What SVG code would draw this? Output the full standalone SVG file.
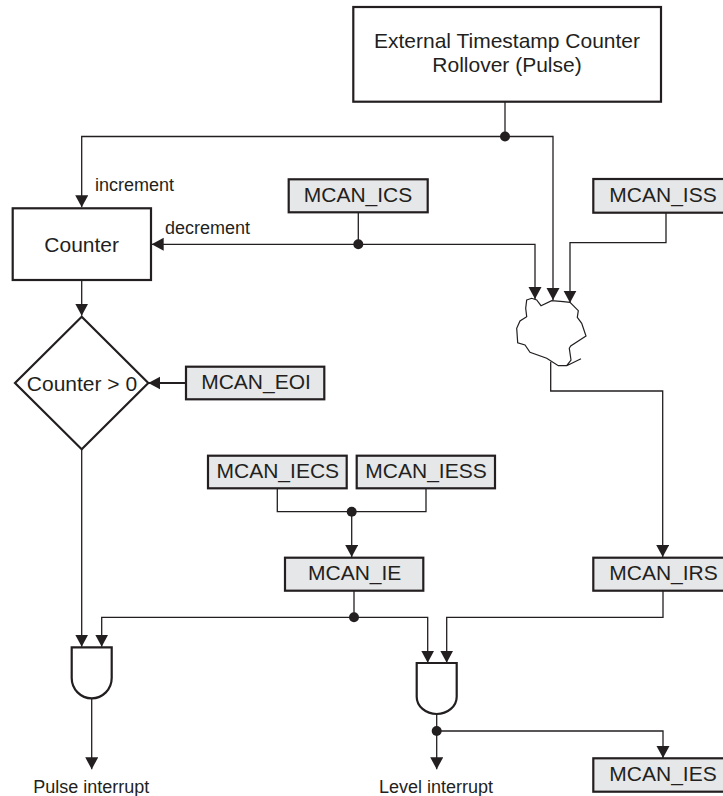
<svg xmlns="http://www.w3.org/2000/svg" width="723" height="796" viewBox="0 0 723 796">
<defs>
<marker id="a" markerUnits="userSpaceOnUse" markerWidth="14" markerHeight="14" refX="12" refY="6.5" orient="auto"><path d="M0 0L12 6.5L0 13Z" fill="#231f20"/></marker>
</defs>
<style>
text{font-family:"Liberation Sans",Arial,sans-serif;fill:#231f20;text-anchor:middle;font-size:21px}
text.s{font-size:18px}
.b{fill:#fff;stroke:#231f20;stroke-width:2.2}
.r{fill:#e6e7e8;stroke:#231f20;stroke-width:2.2}
.c{fill:none;stroke:#231f20;stroke-width:1.3}
.t{stroke-width:2.2}
.d{fill:#231f20}
</style>
<rect width="723" height="796" fill="#fff"/>
<g id="connectors">
<path class="c" d="M505 102V136.500"/>
<path class="c" marker-end="url(#a)" d="M505 136.500H81.700V207.300"/>
<path class="c" marker-end="url(#a)" d="M505 136.500H553V300"/>
<path class="c" d="M358.300 212V244.300"/>
<path class="c" marker-end="url(#a)" d="M358.300 244.300H151.700"/>
<path class="c" marker-end="url(#a)" d="M358.300 244.300H535V299"/>
<path class="c" marker-end="url(#a)" d="M666 212V242.700H570V302.700"/>
<path class="c" marker-end="url(#a)" d="M550.700 361.700V391H662.700V557"/>
<path class="c" marker-end="url(#a)" d="M81.700 280V315.700"/>
<path class="c t" marker-end="url(#a)" d="M186 383H148.300"/>
<path class="c" marker-end="url(#a)" d="M81.700 449V646.700"/>
<path class="c" d="M277.300 488V511.700H426V488"/>
<path class="c" marker-end="url(#a)" d="M351.700 511.700V557"/>
<path class="c" d="M354 590.700V617.300"/>
<path class="c" marker-end="url(#a)" d="M354 617.300H101.700V646.700"/>
<path class="c" marker-end="url(#a)" d="M354 617.300H427.700V662.700"/>
<path class="c" marker-end="url(#a)" d="M663 590.700V617.300H446.700V662.700"/>
<path class="c" marker-end="url(#a)" d="M91.700 698V769.300"/>
<path class="c" marker-end="url(#a)" d="M436.700 714V769.300"/>
<path class="c" marker-end="url(#a)" d="M436.700 731H663V758"/>
<circle class="d" cx="505" cy="136.500" r="5"/>
<circle class="d" cx="358.300" cy="244.300" r="5"/>
<circle class="d" cx="351.700" cy="511.700" r="5"/>
<circle class="d" cx="354" cy="617.300" r="5"/>
<circle class="d" cx="436.700" cy="731" r="5"/>
</g>
<g id="external"><rect class="b" x="353.300" y="7" width="307.700" height="94.700"/><text x="507" y="48">External Timestamp Counter</text><text x="507" y="72">Rollover (Pulse)</text></g>
<g id="counter"><rect class="b" x="12.700" y="208.300" width="138.300" height="71.700"/><text x="81.700" y="251.700">Counter</text></g>
<g id="decision"><path class="b" d="M81.700 316.700L148.300 383L81.700 449.300L15 383Z"/><text x="82" y="390.700">Counter &gt; 0</text></g>
<g id="ics"><rect class="r" x="288.700" y="179.300" width="139" height="33"/><text x="358" y="202">MCAN_ICS</text></g>
<g id="iss"><rect class="r" x="593.300" y="179" width="133" height="33.700"/><text x="663" y="201.700">MCAN_ISS</text></g>
<g id="eoi"><rect class="r" x="186" y="366.700" width="138.300" height="32.600"/><text x="256" y="389">MCAN_EOI</text></g>
<g id="iecs"><rect class="r" x="208" y="455.700" width="138.700" height="32.600"/><text x="277.800" y="477.700">MCAN_IECS</text></g>
<g id="iess"><rect class="r" x="356.700" y="455.700" width="138.300" height="32.600"/><text x="426" y="477.700">MCAN_IESS</text></g>
<g id="ie"><rect class="r" x="285" y="557.700" width="138.300" height="33"/><text x="354.700" y="580">MCAN_IE</text></g>
<g id="irs"><rect class="r" x="593.300" y="557.700" width="133" height="33"/><text x="663.500" y="580">MCAN_IRS</text></g>
<g id="ies"><rect class="r" x="593.300" y="758.300" width="133" height="33.400"/><text x="663" y="781">MCAN_IES</text></g>
<g id="blob"><path d="M526.700 300L531.700 298.300L536.700 300L541 305.700L551.700 300.700L563.300 301.700L570 302.300L578.300 310.700L577.300 317.300L581.700 323.300L586 336L570.700 346L569.300 348.300L571 360L566.700 365.700L558.300 365.700L546.700 358.300L530 352.300L525 345L517.700 342.700L516.700 328.300L520 321L526.700 316.700L525.700 308.300ZM566.700 365.700L581 358.700" fill="#fff" stroke="#231f20" stroke-width="1.2"/></g>
<g id="and1"><path class="b" d="M71.700 647.300H111.700V678A20 20.300 0 0 1 71.700 678Z"/></g>
<g id="and2"><path class="b" d="M416.700 663H456.700V696.700A20 17.300 0 0 1 416.700 696.700Z"/></g>
<g id="labels">
<text class="s" x="134.500" y="191">increment</text>
<text class="s" x="207.500" y="234">decrement</text>
<text class="s" x="91.300" y="792.700">Pulse interrupt</text>
<text class="s" x="436" y="792.700">Level interrupt</text>
</g>
</svg>
